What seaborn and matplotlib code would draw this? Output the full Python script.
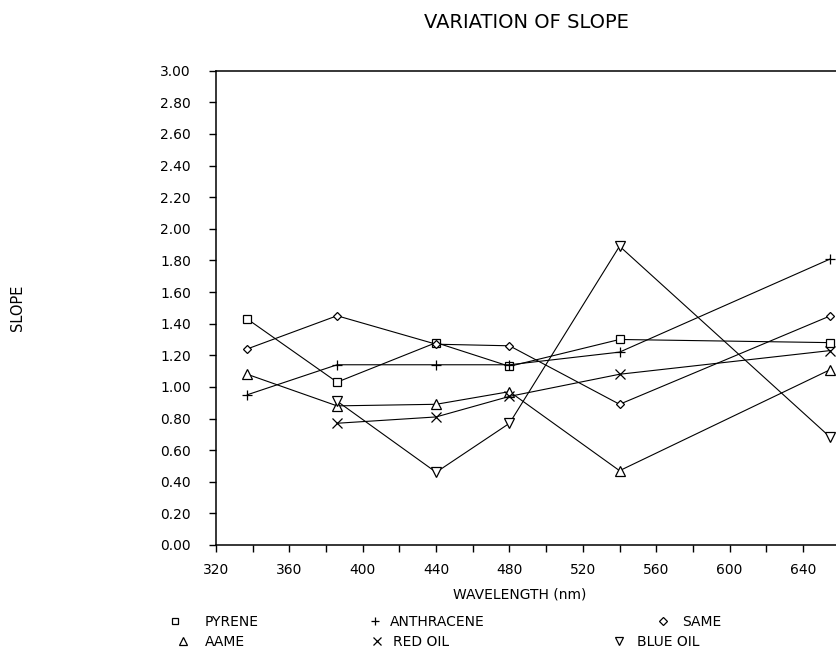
import matplotlib
matplotlib.use("Agg")
import matplotlib.pyplot as plt
from matplotlib.lines import Line2D
from matplotlib.ticker import MultipleLocator, FormatStrFormatter
import seaborn as sns
import numpy as np
import pandas as pd

# valores
wavelength = [337, 386, 440, 480, 540, 655]
pyrene = [1.43, 1.03, 1.28, 1.13, 1.30, 1.28]
anthracene = [0.95, 1.14, 1.14, 1.14, 1.22, 1.81]
same = [1.24, 1.45, 1.27, 1.26, 0.89, 1.45]
aame = [1.08, 0.88, 0.89, 0.97, 0.47, 1.11]
red_oil = [np.nan, 0.77, 0.81, 0.94, 1.08, 1.23]
blue_oil = [np.nan, 0.91, 0.46, 0.77, 1.89, 0.68]

names = ["PYRENE", "ANTHRACENE", "SAME", "AAME", "RED OIL", "BLUE OIL"]
series = [pyrene, anthracene, same, aame, red_oil, blue_oil]

df = pd.DataFrame({
    "wavelength": wavelength * len(names),
    "slope": np.concatenate(series),
    "compound": np.repeat(names, len(wavelength)),
}).dropna()

# estilo de cada serie
markers = {"PYRENE": "s", "ANTHRACENE": "+", "SAME": "D",
           "AAME": "^", "RED OIL": "x", "BLUE OIL": "v"}
msizes = {"PYRENE": 6, "ANTHRACENE": 7, "SAME": 4.5,
          "AAME": 6.5, "RED OIL": 7, "BLUE OIL": 6.5}

# posicion de la leyenda en pixeles: (x marcador, x texto, y)
legend_layout = {
    "PYRENE": (175, 205, 622), "ANTHRACENE": (375, 390, 622), "SAME": (663, 682, 622),
    "AAME": (183, 205, 642), "RED OIL": (377, 393, 642), "BLUE OIL": (619, 637, 642),
}

W, H = 836, 652

sns.set_theme(style="ticks")
plt.rcParams.update({
    "font.family": ["DejaVu Sans"],
    "text.color": "black",
    "axes.labelcolor": "black",
    "axes.edgecolor": "black",
    "xtick.color": "black",
    "ytick.color": "black",
})

fig = plt.figure(figsize=(W / 100, H / 100), dpi=100)
ax = fig.add_axes([216 / W, 107 / H, 1 - 216 / W, 474.3 / H])

for name in names:
    sub = df[df["compound"] == name]
    sns.lineplot(data=sub, x="wavelength", y="slope", ax=ax, color="black",
                 lw=0.8, marker=markers[name], ms=msizes[name], mfc="white",
                 mec="black", mew=0.9, estimator=None, legend=False)

ax.set_xlim(320, 658)
ax.set_ylim(0, 3)
ax.xaxis.set_major_locator(MultipleLocator(40))
ax.xaxis.set_minor_locator(MultipleLocator(20))
ax.yaxis.set_major_locator(MultipleLocator(0.2))
ax.yaxis.set_major_formatter(FormatStrFormatter("%.2f"))
ax.tick_params(axis="both", which="both", direction="out", length=5,
               width=1, labelsize=10)
ax.tick_params(axis="y", pad=13)
ax.tick_params(axis="x", pad=8)
ax.spines["right"].set_visible(False)
for s in ["left", "top", "bottom"]:
    ax.spines[s].set_linewidth(1.1)

ax.set_xlabel("WAVELENGTH (nm)", fontsize=10, va="center")
ax.xaxis.set_label_coords((520 - 216) / 620, (545 - 595) / 474.3)
ax.set_ylabel("SLOPE", fontsize=10.5, va="center", ha="center")
ax.yaxis.set_label_coords((17.5 - 216) / 620, (545 - 307.5) / 474.3)

fig.suptitle("VARIATION OF SLOPE", x=526 / W, y=1 - 22 / H, va="center",
             fontsize=14)

# una leyenda por entrada para respetar la disposicion original
em = 10 * 100 / 72
for name in names:
    mx, tx, y = legend_layout[name]
    h = Line2D([], [], ls="none", marker=markers[name], ms=msizes[name] * 0.8,
               mfc="white", mec="black", mew=0.9, color="black")
    fig.legend([h], [name], loc="center left",
               bbox_to_anchor=((mx - em / 2) / W, 1 - y / H),
               frameon=False, borderpad=0, borderaxespad=0,
               handlelength=1.0, handletextpad=(tx - mx - em / 2) / em,
               fontsize=10)

fig.savefig("out.png", dpi=100)
